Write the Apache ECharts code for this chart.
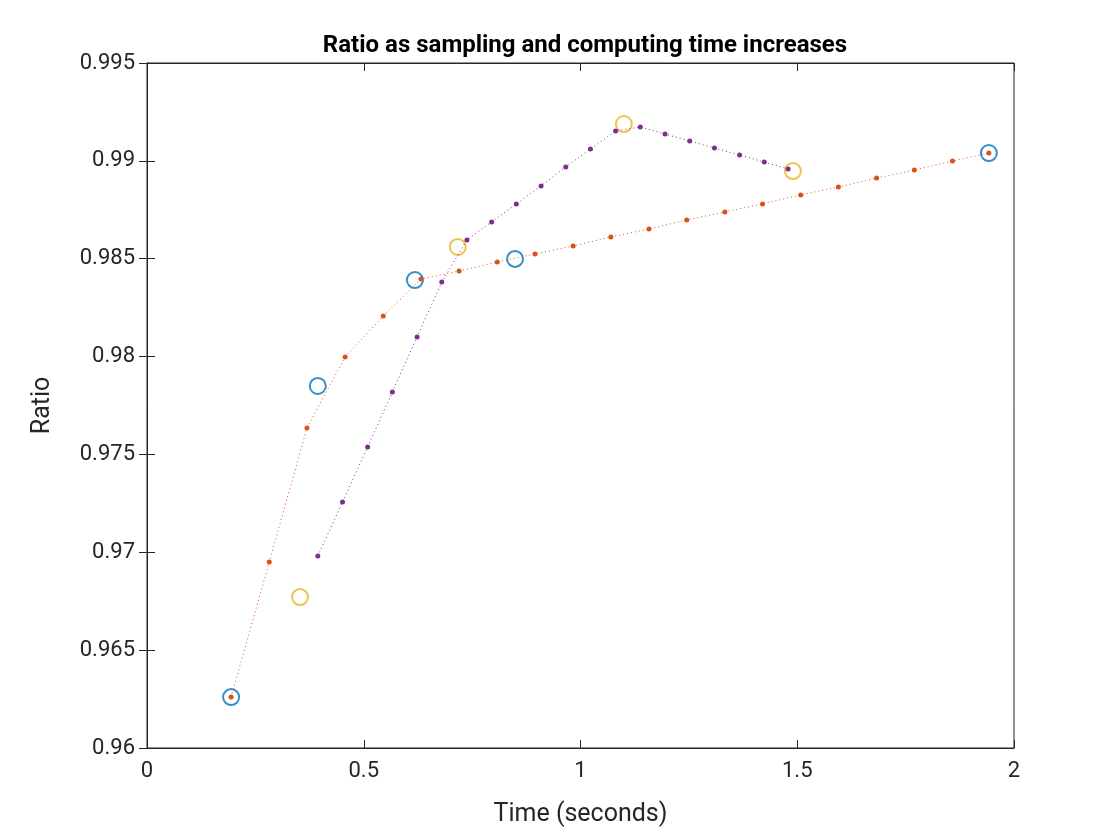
<!DOCTYPE html>
<html>
<head>
<meta charset="utf-8">
<script src="https://cdn.jsdelivr.net/npm/echarts@6/dist/echarts.min.js"></script>
<style>html,body{margin:0;padding:0;background:#fff;}</style>
</head>
<body>
<div id="main" style="width:1120px;height:840px;"></div>
<script type="text/javascript">
    // 数据
    var orangeX = [0.194, 0.282, 0.369, 0.457, 0.545, 0.632, 0.720, 0.808, 0.895, 0.983, 1.070,
                   1.158, 1.245, 1.333, 1.420, 1.508, 1.595, 1.683, 1.770, 1.858, 1.942];
    var orangeY = [0.96260, 0.96950, 0.97635, 0.97998, 0.98207, 0.98396, 0.98437, 0.98483, 0.98524,
                   0.98565, 0.98611, 0.98652, 0.98698, 0.98739, 0.98780, 0.98826, 0.98866, 0.98912,
                   0.98953, 0.98999, 0.99040];
    var purpleX = [0.394, 0.451, 0.509, 0.566, 0.623, 0.680, 0.738, 0.795, 0.852, 0.909,
                   0.966, 1.023, 1.081, 1.138, 1.195, 1.252, 1.309, 1.367, 1.424, 1.479];
    var purpleY = [0.96981, 0.97257, 0.97538, 0.97819, 0.98100, 0.98381, 0.98596, 0.98688, 0.98780, 0.98872,
                   0.98969, 0.99061, 0.99153, 0.99173, 0.99137, 0.99101, 0.99066, 0.99030, 0.98994, 0.98958];
    var blueX = [0.194, 0.394, 0.618, 0.849, 1.942];
    var blueY = [0.9626, 0.9785, 0.98391, 0.98499, 0.9904];
    var yellowX = [0.353, 0.717, 1.100, 1.490];
    var yellowY = [0.96771, 0.98560, 0.99188, 0.98948];

    function pairs(xs, ys) {
        return xs.map(function (x, i) { return [x, ys[i]]; });
    }

    var myChart = echarts.init(document.getElementById('main'));
    var axisColor = '#262626';
    var font = 'Roboto, "Liberation Sans", sans-serif';
    var option = {
        animation: false,
        title: {
            text: 'Ratio as sampling and computing time increases',
            left: 580, top: 29, textAlign: 'center',
            textStyle: { fontSize: 24, fontWeight: 'bold', color: '#000', fontFamily: font }
        },
        grid: { left: 147, right: 106, top: 63, bottom: 92, show: true, borderColor: axisColor, borderWidth: 1 },
        xAxis: [{
            type: 'value', min: 0, max: 2, interval: 0.5,
            name: 'Time (seconds)', nameLocation: 'middle', nameGap: 54,
            nameTextStyle: { fontSize: 25, color: axisColor, fontFamily: font },
            axisLine: { lineStyle: { color: axisColor } },
            axisTick: { inside: true, length: 8, lineStyle: { color: axisColor } },
            axisLabel: { fontSize: 22, color: axisColor, fontFamily: font, margin: 12 },
            splitLine: { show: false }
        }, {
            type: 'value', min: 0, max: 2, interval: 0.5, position: 'top',
            axisLine: { lineStyle: { color: axisColor } },
            axisTick: { inside: true, length: 8, lineStyle: { color: axisColor } },
            axisLabel: { show: false }, splitLine: { show: false }
        }],
        yAxis: [{
            type: 'value', min: 0.96, max: 0.995, interval: 0.005,
            name: 'Ratio', nameLocation: 'middle', nameGap: 92,
            nameTextStyle: { fontSize: 25, color: axisColor, fontFamily: font },
            axisLine: { show: true, lineStyle: { color: axisColor } },
            axisTick: { show: true, inside: true, length: 8, lineStyle: { color: axisColor } },
            axisLabel: { fontSize: 22, color: axisColor, fontFamily: font, margin: 12,
                formatter: function (v) { return String(parseFloat(v.toFixed(3))); } },
            splitLine: { show: false }
        }, {
            type: 'value', min: 0.96, max: 0.995, interval: 0.005, position: 'right',
            axisLine: { show: true, lineStyle: { color: axisColor } },
            axisTick: { show: true, inside: true, length: 8, lineStyle: { color: axisColor } },
            axisLabel: { show: false }, splitLine: { show: false }
        }],
        series: [
            {
                type: 'line', data: pairs(orangeX, orangeY),
                symbol: 'circle', symbolSize: 5,
                itemStyle: { color: '#D95319' },
                lineStyle: { color: '#D95319', width: 1, type: [1, 3] }
            },
            {
                type: 'line', data: pairs(purpleX, purpleY),
                symbol: 'circle', symbolSize: 5,
                itemStyle: { color: '#7E2F8E' },
                lineStyle: { color: '#7E2F8E', width: 1, type: [1, 3] }
            },
            {
                type: 'scatter', data: pairs(blueX, blueY),
                symbol: 'emptyCircle', symbolSize: 16,
                itemStyle: { color: '#0072BD', borderColor: '#0072BD', borderWidth: 1.2 }
            },
            {
                type: 'scatter', data: pairs(yellowX, yellowY),
                symbol: 'emptyCircle', symbolSize: 16,
                itemStyle: { color: '#EDB120', borderColor: '#EDB120', borderWidth: 1.2 }
            }
        ]
    };
    myChart.setOption(option);
</script>
</body>
</html>
